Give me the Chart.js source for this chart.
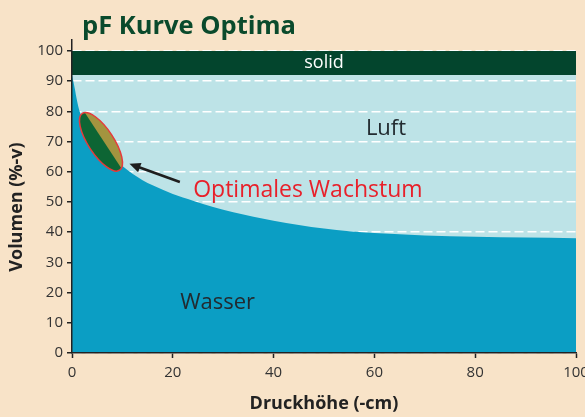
<!DOCTYPE html>
<html>
<head>
<meta charset="utf-8">
<script src="https://cdn.jsdelivr.net/npm/chart.js@4.4.1/dist/chart.umd.min.js"></script>
<style>
  body { margin: 0; background: #f8e3c8; }
  #wrap { width: 585px; height: 417px; }
</style>
</head>
<body>
<div id="wrap"><canvas id="pf"></canvas></div>
<script>
// pF curve: Druckhöhe (-cm) vs Volumen (%-v)
const pressure = [0, 0.5, 1, 1.5, 2, 3, 4, 5, 6, 8, 10, 12, 14, 16, 20, 24, 28, 32, 36, 40, 45, 50, 55, 60, 70, 80, 90, 100];
const waterVol = [92, 88, 83.5, 80, 78, 75, 72.6, 70.4, 68.4, 64.9, 61.9, 59.3, 57.2, 55.5, 52.6, 50.4, 48.3, 46.6, 45.1, 43.8, 42.4, 41.2, 40.3, 39.7, 38.9, 38.5, 38.2, 38];
const solidFrom = 92;
const solidTo = 100;
const xTicks = [0, 20, 40, 60, 80, 100];
const yTicks = [0, 10, 20, 30, 40, 50, 60, 70, 80, 90, 100];
const zoneLabels = ['solid', 'Luft', 'Wasser', 'Optimales Wachstum'];

const C_BG = '#f8e3c8';
const C_AIR = '#bde3e7';
const C_WATER = '#0b9ec4';
const C_SOLID = '#03452d';
const C_AXIS = '#222222';

Chart.defaults.font.family = "'Open Sans', sans-serif";

const pfPlugin = {
    id: 'pfPlugin',
    beforeDraw(chart) {
        const { ctx, chartArea: a, scales: { y } } = chart;
        ctx.save();
        ctx.fillStyle = C_BG;
        ctx.fillRect(0, 0, chart.width, chart.height);
        // air zone behind the grid lines
        ctx.fillStyle = C_AIR;
        const top = y.getPixelForValue(solidFrom);
        ctx.fillRect(a.left, top, a.right - a.left, a.bottom - top);
        ctx.restore();
    },
    afterDatasetsDraw(chart) {
        const { ctx, scales: { x, y } } = chart;
        ctx.save();

        // ellipse "optimal growth"
        const cx = x.getPixelForValue(5.75), cy = y.getPixelForValue(69.9);
        const rot = 56.7 * Math.PI / 180;
        ctx.translate(cx, cy);
        ctx.rotate(rot);
        ctx.beginPath();
        ctx.ellipse(0, 0, 34, 12.8, 0, 0, Math.PI * 2);
        ctx.save();
        ctx.clip();
        ctx.fillStyle = '#a3943f';
        ctx.fillRect(-40, -20, 80, 40);
        ctx.fillStyle = '#0d6534';
        ctx.fillRect(-40, -2.5, 80, 30);
        ctx.restore();
        ctx.strokeStyle = '#e63a3c';
        ctx.lineWidth = 1.5;
        ctx.stroke();
        ctx.setTransform(1, 0, 0, 1, 0, 0);

        // arrow
        const x1 = x.getPixelForValue(21.4), y1 = y.getPixelForValue(56.6);
        const x2 = x.getPixelForValue(11.4), y2 = y.getPixelForValue(62.6);
        const ang = Math.atan2(y2 - y1, x2 - x1);
        ctx.strokeStyle = '#1e1e1e';
        ctx.fillStyle = '#1e1e1e';
        ctx.lineWidth = 2.6;
        ctx.beginPath();
        ctx.moveTo(x1, y1);
        ctx.lineTo(x2 - 8 * Math.cos(ang), y2 - 8 * Math.sin(ang));
        ctx.stroke();
        ctx.beginPath();
        ctx.moveTo(x2, y2);
        ctx.lineTo(x2 - 11 * Math.cos(ang) + 5 * Math.sin(ang), y2 - 11 * Math.sin(ang) - 5 * Math.cos(ang));
        ctx.lineTo(x2 - 11 * Math.cos(ang) - 5 * Math.sin(ang), y2 - 11 * Math.sin(ang) + 5 * Math.cos(ang));
        ctx.closePath();
        ctx.fill();

        // zone labels
        ctx.textAlign = 'center';
        ctx.textBaseline = 'middle';
        ctx.fillStyle = '#ffffff';
        ctx.font = "18px 'Open Sans'";
        ctx.fillText(zoneLabels[0], x.getPixelForValue(50), y.getPixelForValue(96));
        ctx.fillStyle = '#222b30';
        ctx.font = "22px 'Open Sans'";
        ctx.fillText(zoneLabels[1], x.getPixelForValue(62.3), y.getPixelForValue(74.2));
        ctx.fillText(zoneLabels[2], x.getPixelForValue(28.9), y.getPixelForValue(16.5));
        ctx.fillStyle = '#e8202a';
        ctx.font = "23px 'Open Sans'";
        ctx.fillText(zoneLabels[3], x.getPixelForValue(46.8), y.getPixelForValue(53.8));
        ctx.restore();
    },
    afterDraw(chart) {
        const { ctx } = chart;
        ctx.save();
        ctx.fillStyle = '#0a4a2c';
        ctx.font = "bold 25.5px 'Open Sans'";
        ctx.textBaseline = 'alphabetic';
        ctx.fillText('pF Kurve Optima', 82, 34);
        ctx.fillStyle = C_AXIS;
        ctx.font = "bold 18px 'Open Sans'";
        ctx.textAlign = 'center';
        ctx.textBaseline = 'middle';
        ctx.translate(16.5, 207);
        ctx.rotate(-Math.PI / 2);
        ctx.fillText('Volumen (%-v)', 0, 0);
        ctx.restore();
    }
};

new Chart(document.getElementById('pf'), {
    type: 'line',
    data: {
        datasets: [{
            label: 'Wasser',
            data: pressure.map((p, i) => ({ x: p, y: waterVol[i] })),
            fill: 'start',
            backgroundColor: C_WATER,
            borderWidth: 0,
            pointRadius: 0,
            cubicInterpolationMode: 'monotone'
        }, {
            label: 'solid',
            data: [{ x: 0, y: solidTo }, { x: 100, y: solidTo }],
            fill: { value: solidFrom },
            backgroundColor: C_SOLID,
            borderWidth: 0,
            pointRadius: 0
        }]
    },
    options: {
        responsive: true,
        maintainAspectRatio: false,
        animation: false,
        layout: { padding: { top: 40, right: 9, left: 0, bottom: 0 } },
        plugins: {
            legend: { display: false },
            tooltip: { enabled: false }
        },
        scales: {
            x: {
                type: 'linear',
                min: 0,
                max: 100,
                afterBuildTicks: (s) => { s.ticks = xTicks.map((v) => ({ value: v })); },
                afterFit: (s) => { s.height = 64; s.paddingLeft = 0; s.paddingRight = 0; },
                ticks: { color: '#333', font: { size: 15 }, padding: 6, maxRotation: 0 },
                grid: { drawOnChartArea: false, tickColor: C_AXIS, tickLength: 5, tickWidth: 1.5 },
                border: { color: C_AXIS, width: 1.5, z: 1 },
                title: {
                    display: true,
                    text: 'Druckhöhe (-cm)',
                    color: C_AXIS,
                    font: { size: 18, weight: 'bold' },
                    padding: { top: 2, bottom: 2 }
                }
            },
            y: {
                min: 0,
                max: 103.6,
                afterBuildTicks: (s) => { s.ticks = yTicks.map((v) => ({ value: v })); },
                afterFit: (s) => { s.width = 72; },
                ticks: { color: '#333', font: { size: 15 }, padding: 4 },
                grid: { color: '#ffffff', lineWidth: 1.5, tickColor: C_AXIS, tickLength: 5, tickWidth: 1.5 },
                border: { color: C_AXIS, width: 1.5, dash: [9, 4], z: 1 }
            }
        }
    },
    plugins: [pfPlugin]
});
</script>
</body>
</html>
